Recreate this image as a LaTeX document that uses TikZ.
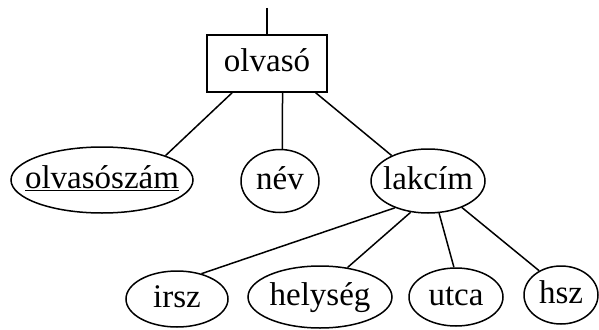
\documentclass[tikz,border=0pt]{standalone}
\usepackage{fontspec}
\setmainfont{Liberation Serif}
\usetikzlibrary{shapes.geometric}
\begin{document}
\begin{tikzpicture}[x=1pt,y=-1pt,
  every node/.style={font=\fontsize{33}{38}\selectfont, text height=23pt, text depth=6.5pt, inner sep=0pt},
  attr/.style={draw, ellipse, line width=1.5pt},
  entity/.style={draw, rectangle, line width=1.5pt, minimum width=120pt, minimum height=57pt},
  link/.style={line width=1.5pt}]
\useasboundingbox (0,0) rectangle (599,329);

% entity and its incoming edge
\node[entity] (olvaso) at (267,63.5) {olvasó};
\coordinate (up) at (267,8);

% attributes of the entity
\node[attr, minimum width=182pt, minimum height=66pt] (szam) at (102,180) {\makebox[0pt]{\underline{olvasószám}}};
\node[attr, minimum width=78pt, minimum height=63pt] (nev) at (280,181) {\makebox[0pt]{név}};
\node[attr, minimum width=114pt, minimum height=64pt] (lakcim) at (428,181) {\makebox[0pt]{lakcím}};

% parts of the composite attribute
\node[attr, minimum width=102pt, minimum height=56pt] (irsz) at (177,299) {\makebox[0pt]{irsz}};
\node[attr, minimum width=144pt, minimum height=62pt] (helyseg) at (320,297) {\makebox[0pt]{helység}};
\node[attr, minimum width=94pt, minimum height=58pt] (utca) at (456,297) {\makebox[0pt]{utca}};
\node[attr, minimum width=74pt, minimum height=58pt] (hsz) at (561,295) {\makebox[0pt]{hsz}};

% connectors
\draw[link] (up) -- (olvaso.north);
\draw[link] (olvaso.220) -- (szam.21);
\draw[link] (olvaso.-62) -- (nev.86);
\draw[link] (olvaso.-31) -- (lakcim.145);
\draw[link] (lakcim.219) -- (irsz.46);
\draw[link] (lakcim.241) -- (helyseg.47);
\draw[link] (lakcim.289) -- (utca.94);
\draw[link] (lakcim.322) -- (hsz.132);
\end{tikzpicture}
\end{document}
